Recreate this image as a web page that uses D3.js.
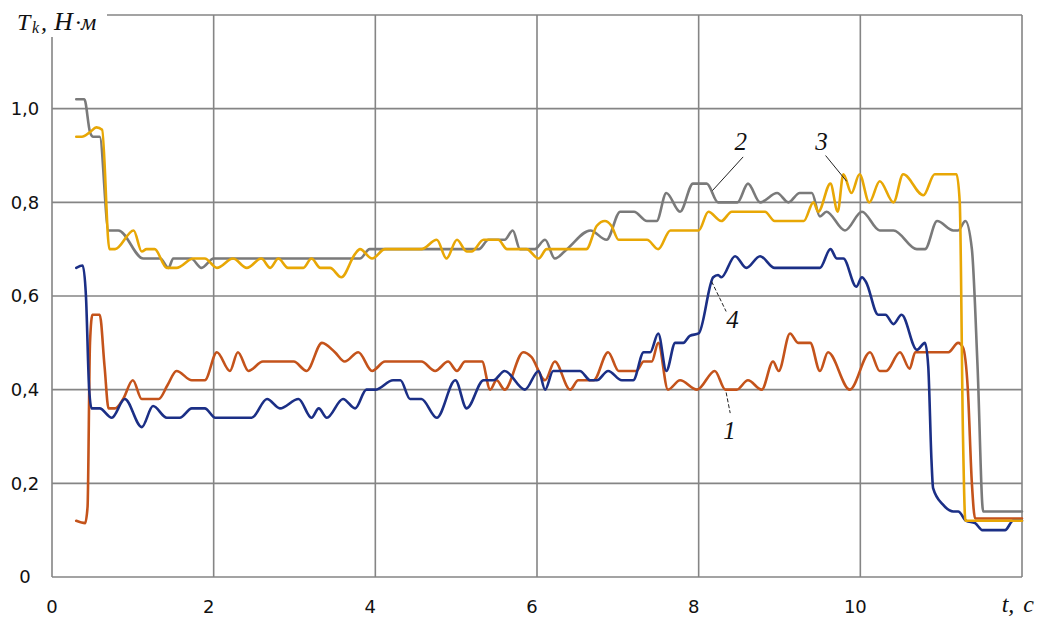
<!DOCTYPE html>
<html><head><meta charset="utf-8">
<script src="https://cdn.jsdelivr.net/npm/d3@7"></script>
<style>body{margin:0;background:#fff}svg{display:block}</style>
</head><body>
<svg id="c" width="1038" height="617"></svg>
<script>
const xTicks = [0, 2, 4, 6, 8, 10];
const xTickLabels = ["0", "2", "4", "6", "8", "10"];
const yTicks = [0, 0.2, 0.4, 0.6, 0.8, 1.0];
const yTickLabels = ["0", "0,2", "0,4", "0,6", "0,8", "1,0"];
const xGrid = [2, 4, 6, 8, 10, 12];
const yGrid = [0.2, 0.4, 0.6, 0.8, 1.0, 1.2];

// curve 1 (orange)
const series1 = [[0.30,0.12],[0.41,0.115],[0.44,0.15],[0.47,0.50],[0.50,0.56],[0.59,0.56],[0.65,0.45],[0.70,0.36],[0.78,0.36],[0.88,0.38],[1.0,0.42],[1.11,0.38],[1.32,0.38],[1.43,0.41],[1.54,0.44],[1.73,0.42],[1.89,0.42],[2.04,0.48],[2.20,0.44],[2.30,0.48],[2.43,0.44],[2.61,0.46],[2.99,0.46],[3.15,0.44],[3.34,0.50],[3.50,0.48],[3.62,0.46],[3.79,0.48],[3.96,0.44],[4.12,0.46],[4.57,0.46],[4.74,0.44],[4.90,0.46],[5.01,0.44],[5.11,0.46],[5.32,0.46],[5.42,0.40],[5.50,0.42],[5.60,0.40],[5.83,0.48],[5.93,0.47],[6.10,0.42],[6.22,0.46],[6.41,0.40],[6.51,0.42],[6.70,0.42],[6.88,0.48],[7.01,0.44],[7.23,0.44],[7.32,0.46],[7.42,0.46],[7.50,0.50],[7.62,0.40],[7.77,0.42],[7.98,0.40],[8.20,0.44],[8.33,0.40],[8.47,0.40],[8.61,0.42],[8.78,0.40],[8.92,0.46],[8.99,0.44],[9.13,0.52],[9.23,0.50],[9.38,0.50],[9.50,0.44],[9.60,0.48],[9.87,0.40],[10.12,0.48],[10.24,0.44],[10.32,0.44],[10.49,0.48],[10.61,0.445],[10.68,0.48],[10.90,0.48],[11.09,0.48],[11.21,0.50],[11.27,0.49],[11.33,0.40],[11.38,0.20],[11.42,0.125],[12,0.125]];
// curve 2 (gray)
const series2 = [[0.30,1.02],[0.40,1.02],[0.47,0.95],[0.51,0.94],[0.59,0.94],[0.70,0.74],[0.82,0.74],[1.13,0.68],[1.34,0.68],[1.44,0.66],[1.50,0.68],[1.72,0.68],[1.85,0.66],[2.0,0.68],[3.81,0.68],[3.93,0.70],[5.28,0.70],[5.40,0.72],[5.60,0.72],[5.70,0.74],[5.79,0.70],[5.97,0.70],[6.10,0.72],[6.22,0.68],[6.37,0.70],[6.66,0.74],[6.86,0.72],[7.03,0.78],[7.20,0.78],[7.36,0.76],[7.48,0.76],[7.60,0.82],[7.77,0.78],[7.93,0.84],[8.10,0.84],[8.24,0.80],[8.48,0.80],[8.61,0.84],[8.76,0.80],[8.97,0.82],[9.11,0.80],[9.25,0.82],[9.40,0.82],[9.50,0.77],[9.58,0.78],[9.81,0.74],[10.02,0.78],[10.24,0.74],[10.41,0.74],[10.70,0.70],[10.80,0.70],[10.95,0.76],[11.15,0.74],[11.21,0.74],[11.30,0.76],[11.38,0.70],[11.45,0.45],[11.52,0.14],[12.0,0.14]];
// curve 3 (yellow)
const series3 = [[0.30,0.94],[0.37,0.94],[0.47,0.95],[0.55,0.96],[0.62,0.955],[0.71,0.70],[0.78,0.70],[1.01,0.74],[1.11,0.695],[1.17,0.70],[1.27,0.70],[1.42,0.66],[1.54,0.66],[1.75,0.68],[1.89,0.68],[2.04,0.66],[2.24,0.68],[2.41,0.66],[2.59,0.68],[2.70,0.66],[2.80,0.68],[2.92,0.66],[3.11,0.66],[3.21,0.68],[3.32,0.66],[3.44,0.66],[3.58,0.64],[3.75,0.69],[3.81,0.70],[3.96,0.68],[4.12,0.70],[4.57,0.70],[4.76,0.72],[4.88,0.68],[5.01,0.72],[5.13,0.695],[5.19,0.695],[5.34,0.72],[5.52,0.72],[5.63,0.70],[5.87,0.70],[6.02,0.68],[6.12,0.70],[6.61,0.70],[6.74,0.75],[6.84,0.76],[6.92,0.75],[7.01,0.72],[7.36,0.72],[7.50,0.70],[7.65,0.74],[8.0,0.74],[8.12,0.78],[8.28,0.76],[8.41,0.78],[8.82,0.78],[8.94,0.76],[9.30,0.76],[9.42,0.80],[9.48,0.78],[9.63,0.84],[9.72,0.78],[9.79,0.86],[9.89,0.82],[9.99,0.86],[10.11,0.80],[10.24,0.845],[10.41,0.80],[10.53,0.86],[10.78,0.815],[10.92,0.86],[11.19,0.86],[11.23,0.80],[11.27,0.30],[11.30,0.12],[12,0.12]];
// curve 4 (navy)
const series4 = [[0.30,0.66],[0.38,0.665],[0.42,0.60],[0.46,0.40],[0.49,0.36],[0.59,0.36],[0.74,0.34],[0.90,0.38],[1.11,0.32],[1.25,0.365],[1.42,0.34],[1.58,0.34],[1.73,0.36],[1.89,0.36],[2.02,0.34],[2.47,0.34],[2.66,0.38],[2.82,0.36],[3.05,0.38],[3.21,0.34],[3.30,0.36],[3.40,0.34],[3.60,0.38],[3.75,0.36],[3.89,0.40],[4.0,0.40],[4.22,0.42],[4.31,0.42],[4.43,0.38],[4.57,0.38],[4.76,0.34],[4.99,0.42],[5.13,0.36],[5.34,0.42],[5.46,0.42],[5.60,0.44],[5.85,0.40],[6.02,0.44],[6.10,0.40],[6.20,0.44],[6.53,0.44],[6.66,0.42],[6.74,0.42],[6.88,0.44],[7.05,0.42],[7.19,0.42],[7.32,0.48],[7.40,0.48],[7.50,0.52],[7.60,0.44],[7.71,0.50],[7.81,0.50],[7.89,0.515],[8.0,0.52],[8.18,0.64],[8.24,0.645],[8.28,0.64],[8.45,0.685],[8.59,0.66],[8.76,0.685],[8.94,0.66],[9.50,0.66],[9.63,0.70],[9.71,0.68],[9.79,0.68],[9.95,0.62],[10.02,0.64],[10.07,0.63],[10.22,0.56],[10.31,0.56],[10.41,0.54],[10.51,0.56],[10.70,0.485],[10.80,0.50],[10.84,0.45],[10.88,0.25],[10.90,0.19],[11.02,0.155],[11.15,0.14],[11.21,0.14],[11.31,0.12],[11.42,0.115],[11.51,0.10],[11.79,0.10],[11.89,0.12],[12,0.12]];

const seriesList = [
  {data: series1, color: "#c4531b"},
  {data: series2, color: "#7a7a7a"},
  {data: series4, color: "#1b2f86"},
  {data: series3, color: "#e8a705"}
];
// curve labels with leader lines
const curveLabels = [
  {text: "1", t: 8.38, v: 0.314, lx: [8.34, 8.39], ly: [0.394, 0.350], dashed: true},
  {text: "2", t: 8.52, v: 0.93, lx: [8.55, 8.17], ly: [0.897, 0.825], dashed: false},
  {text: "3", t: 9.52, v: 0.93, lx: [9.57, 9.83], ly: [0.900, 0.845], dashed: false},
  {text: "4", t: 8.42, v: 0.55, lx: [8.16, 8.34], ly: [0.631, 0.567], dashed: true}
];

const svg = d3.select("#c");
const x = d3.scaleLinear().domain([0, 12]).range([52, 1022]);
const y = d3.scaleLinear().domain([0, 1.2]).range([577, 15]);

const gridColor = "#858585";
svg.append("g").selectAll("line").data(xGrid).join("line")
  .attr("x1", d => x(d)).attr("x2", d => x(d)).attr("y1", y(0)).attr("y2", y(1.2))
  .attr("stroke", gridColor).attr("stroke-width", 1.6);
svg.append("g").selectAll("line").data(yGrid).join("line")
  .attr("x1", x(0)).attr("x2", x(12)).attr("y1", d => y(d)).attr("y2", d => y(d))
  .attr("stroke", gridColor).attr("stroke-width", 1.6);
svg.append("line").attr("x1", x(0)).attr("x2", x(12)).attr("y1", y(0)).attr("y2", y(0)).attr("stroke", gridColor).attr("stroke-width", 1.6);
svg.append("line").attr("x1", x(0)).attr("x2", x(0)).attr("y1", y(0)).attr("y2", y(1.2)).attr("stroke", gridColor).attr("stroke-width", 1.6);

const line = d3.line().x(d => x(d[0])).y(d => y(d[1])).curve(d3.curveMonotoneX);
svg.append("g").selectAll("path").data(seriesList).join("path")
  .attr("d", d => line(d.data)).attr("fill", "none")
  .attr("stroke", d => d.color).attr("stroke-width", 2.6)
  .attr("stroke-linejoin", "round").attr("stroke-linecap", "round");

svg.append("rect").attr("x", 0).attr("y", 0).attr("width", 107).attr("height", 37).attr("fill", "#fff");

const tickFont = "'DejaVu Sans', Verdana, sans-serif";
svg.append("g").selectAll("text").data(yTicks).join("text")
  .attr("x", 25).attr("y", d => y(d)).attr("dy", "0.36em")
  .attr("text-anchor", "middle").attr("font-family", tickFont).attr("font-size", 18)
  .attr("fill", "#111").text((d, i) => yTickLabels[i]);
svg.append("g").selectAll("text").data(xTicks).join("text")
  .attr("x", d => d === 0 ? x(d) : x(d) - 5).attr("y", 607).attr("dy", "0.36em")
  .attr("text-anchor", "middle").attr("font-family", tickFont).attr("font-size", 18)
  .attr("fill", "#111").text((d, i) => xTickLabels[i]);

const serif = "'Liberation Serif', 'DejaVu Serif', serif";
const yt = svg.append("text").attr("y", 30).attr("font-family", serif)
  .attr("font-style", "italic").attr("font-size", 24).attr("fill", "#111");
yt.append("tspan").attr("x", 17).text("T");
yt.append("tspan").attr("x", 32).attr("font-size", 16).attr("dy", 3).text("k");
yt.append("tspan").attr("x", 41).attr("dy", -3).text(",");
yt.append("tspan").attr("x", 54).attr("font-size", 26).text("Н");
yt.append("tspan").attr("x", 75).attr("font-size", 24).text("·м");
svg.append("text").attr("x", 1034).attr("y", 612).attr("text-anchor", "end")
  .attr("font-family", serif).attr("font-style", "italic").attr("font-size", 24)
  .attr("fill", "#111").attr("word-spacing", 3).text("t, c");

svg.append("g").selectAll("line").data(curveLabels).join("line")
  .attr("x1", d => x(d.lx[0])).attr("x2", d => x(d.lx[1]))
  .attr("y1", d => y(d.ly[0])).attr("y2", d => y(d.ly[1]))
  .attr("stroke", "#222").attr("stroke-width", 1)
  .attr("stroke-dasharray", d => d.dashed ? "4,2" : null);
svg.append("g").selectAll("text").data(curveLabels).join("text")
  .attr("x", d => x(d.t)).attr("y", d => y(d.v)).attr("dy", "0.35em")
  .attr("text-anchor", "middle").attr("font-family", serif).attr("font-style", "italic")
  .attr("font-size", 25).attr("fill", "#111").text(d => d.text);
</script>
</body></html>
